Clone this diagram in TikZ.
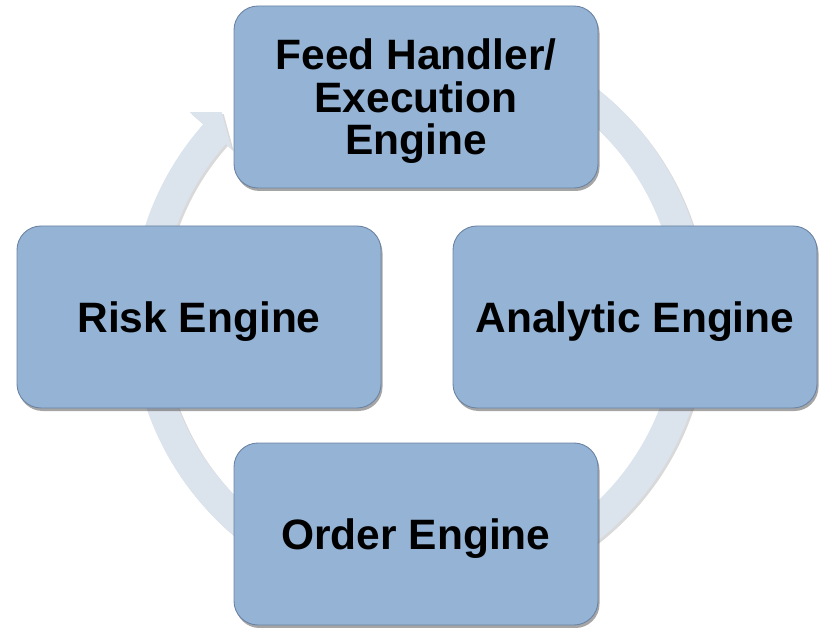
\documentclass[tikz,border=0pt]{standalone}
\usepackage{fontspec}
\setmainfont{Liberation Sans}
\usetikzlibrary{calc,shadows}
\definecolor{boxfill}{HTML}{94B3D5}
\definecolor{boxedge}{HTML}{6C84A3}
\definecolor{ringcol}{HTML}{DBE3ED}
\tikzset{
  enginebox/.style={rectangle, rounded corners=24pt, minimum width=364pt, minimum height=182pt,
    fill=boxfill, draw=boxedge, line width=0.9pt, align=center, text=black,
    font=\fontsize{42.5}{42.5}\selectfont\bfseries, inner sep=0pt, text depth=0pt,
    drop shadow={shadow xshift=1.5pt, shadow yshift=-3pt, opacity=0.5, fill=black!70}},
  ringstyle/.style={fill=ringcol, drop shadow={shadow xshift=2pt, shadow yshift=-2pt, opacity=0.25, fill=black!60}}
}
\begin{document}
\begin{tikzpicture}[x=1pt,y=1pt]
\useasboundingbox (0,0) rectangle (821,627);
\coordinate (c) at (419,312);
% ring arrow
\fill[ringstyle] ($(c)+(70:288)$) arc[start angle=70, end angle=-221.5, radius=288]
  -- ($(c)+(138.5:306)$) -- ($(c)+(134.2:283)$) -- ($(c)+(138.5:250)$)
  -- ($(c)+(138.5:258)$) arc[start angle=-221.5, end angle=70, radius=258] -- cycle;
% boxes
\node[enginebox] (feed) at (416,530) {Feed Handler/\\Execution\\Engine};
\node[enginebox] (risk) at (199,310) {Risk Engine};
\node[enginebox] (analytic) at (635,310) {Analytic Engine};
\node[enginebox] (order) at (416,93) {Order Engine};
\end{tikzpicture}
\end{document}
